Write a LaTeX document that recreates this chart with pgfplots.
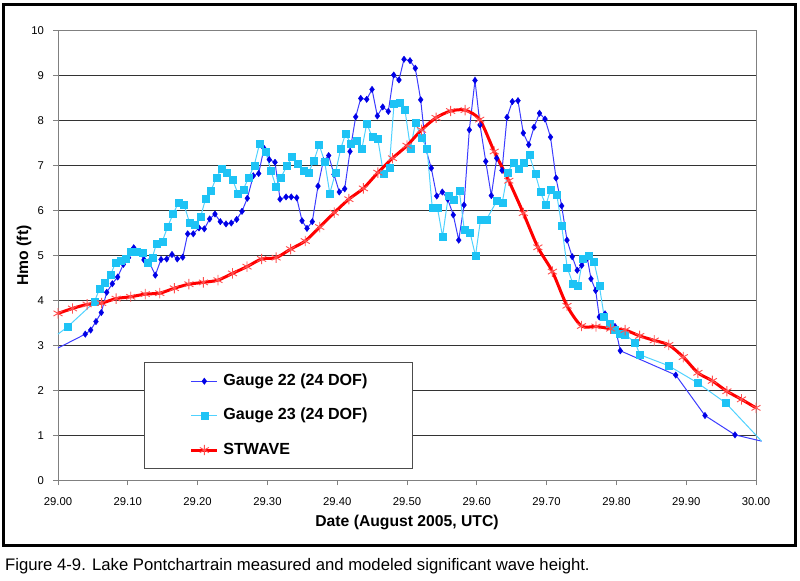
\documentclass[border=0pt]{standalone}
\usepackage{fontspec}
\setmainfont{Liberation Sans}
\usepackage{pgfplots}
\pgfplotsset{compat=1.18}
\definecolor{gAline}{RGB}{60,60,255}
\definecolor{gAmark}{RGB}{0,0,230}
\definecolor{gBline}{RGB}{80,210,255}
\definecolor{gBmark}{RGB}{30,195,245}
\definecolor{stmark}{RGB}{255,80,80}
\begin{document}
\begin{tikzpicture}
\useasboundingbox (0,0) rectangle (800bp,581bp);
\draw[line width=2.2bp] (3.5bp,35.5bp) rectangle (795.5bp,576.5bp);
\node[anchor=base west, font=\fontsize{16.7bp}{20bp}\selectfont, inner sep=0pt] at (5bp,10.3bp) {Figure 4-9. Lake Pontchartrain measured and modeled significant wave height.};
\begin{axis}[
  at={(58bp,100.7bp)}, anchor=south west,
  scale only axis, width=698bp, height=449.8bp,
  xmin=29, xmax=30, ymin=0, ymax=10,
  clip=false,
  xtick={29,29.1,29.2,29.3,29.4,29.5,29.6,29.7,29.8,29.9,30},
  ytick={0,1,2,3,4,5,6,7,8,9,10},
  scaled x ticks=false,
  xtick pos=left, ytick pos=left,
  tick align=outside, major tick length=5bp,
  tick style={gray, line width=0.7bp},
  axis line style={gray, line width=0.8bp},
  ymajorgrids, major grid style={black!80, line width=0.7bp},
  /pgf/number format/assume math mode=true,
  ticklabel style={font=\fontsize{11.3bp}{13bp}\selectfont},
  xticklabel style={yshift=-9.2bp, /pgf/number format/fixed, /pgf/number format/fixed zerofill, /pgf/number format/precision=2},
  yticklabel style={xshift=-5.5bp},
  xlabel={Date (August 2005, UTC)}, ylabel={Hmo (ft)},
  label style={font=\bfseries\fontsize{15.7bp}{18bp}\selectfont},
  x label style={at={(axis description cs:0.5,-0.0943)}, anchor=center},
  y label style={at={(axis description cs:-0.0487,0.5)}, anchor=center},
  legend style={at={(rel axis cs:0.1236,0.2623)}, anchor=north west,
    draw=black!70, line width=0.8bp, fill=white,
    font=\bfseries\fontsize{16.1bp}{19bp}\selectfont,
    inner xsep=45bp, inner ysep=10.5bp, row sep=18.4bp, column sep=4.4bp,
    nodes={inner sep=0pt, text height=12bp, text depth=4bp},
    cells={anchor=west}},
  legend image code/.code={\draw[mark repeat=2,mark phase=2,#1] plot coordinates {(0bp,0bp) (13.15bp,0bp) (26.3bp,0bp)};},
]
% edge segments (no markers)
\addplot[forget plot, color=gAline, line width=1bp] coordinates {(29,2.94) (29.0391,3.25)};
\addplot[forget plot, color=gAline, line width=1bp] coordinates {(29.9699,1.01) (30.008,0.87)};
\addplot[forget plot, color=gBline, line width=1bp] coordinates {(29,3.25) (29.0136,3.41)};
\addplot[forget plot, color=gBline, line width=1bp] coordinates {(29.9566,1.72) (30.008,0.87)};

\addplot[color=gAline, line width=1bp, mark=diamond*, mark size=3.2bp,
  mark options={fill=gAmark, draw=gAmark, line width=0.4bp}] coordinates {
(29.0391,3.25) (29.0468,3.34) (29.0544,3.53) (29.0620,3.73) (29.0698,4.18)
(29.0778,4.37) (29.0855,4.52) (29.0936,4.80) (29.1010,4.95) (29.1085,5.17)
(29.1161,5.08) (29.1232,4.90) (29.1304,4.86) (29.1394,4.56) (29.1476,4.91)
(29.1557,4.92) (29.1633,5.02) (29.1709,4.92) (29.1787,4.96) (29.1858,5.48)
(29.1938,5.48) (29.2020,5.61) (29.2096,5.59) (29.2173,5.81) (29.2249,5.92)
(29.2325,5.75) (29.2407,5.70) (29.2483,5.72) (29.2560,5.80) (29.2636,5.98)
(29.2712,6.27) (29.2798,6.77) (29.2875,6.82) (29.2951,7.38) (29.3027,7.13)
(29.3109,7.07) (29.3181,6.25) (29.3267,6.30) (29.3342,6.30) (29.3420,6.28)
(29.3496,5.77) (29.3567,5.60) (29.3643,5.75) (29.3725,6.54) (29.3801,7.10)
(29.3878,7.22) (29.3954,6.80) (29.4030,6.41) (29.4107,6.48) (29.4183,7.31)
(29.4265,8.08) (29.4337,8.49) (29.4423,8.47) (29.4499,8.69) (29.4575,8.10)
(29.4652,8.30) (29.4732,8.20) (29.4810,9.01) (29.4885,8.90) (29.4957,9.36)
(29.5043,9.33) (29.5119,9.16) (29.5196,8.46) (29.5272,7.35) (29.5348,6.94)
(29.5426,6.32) (29.5506,6.41) (29.5583,6.25) (29.5663,5.90) (29.5741,5.34)
(29.5817,6.12) (29.5893,7.79) (29.5974,8.89) (29.6046,7.90) (29.6128,7.09)
(29.6208,6.33) (29.6285,7.16) (29.6361,6.89) (29.6433,8.07) (29.6509,8.42)
(29.6590,8.44) (29.6666,7.72) (29.6744,7.46) (29.6820,7.85) (29.6898,8.16)
(29.6977,8.03) (29.7056,7.63) (29.7135,6.72) (29.7216,6.10) (29.7292,5.34)
(29.7367,4.97) (29.7438,4.67) (29.7503,4.78) (29.7583,4.94) (29.7636,4.48)
(29.7703,4.22) (29.7755,3.63) (29.7837,3.70) (29.7908,3.44) (29.7980,3.42)
(29.8056,2.88) (29.8850,2.34) (29.9269,1.44) (29.9699,1.01)
};
\addlegendentry{Gauge 22 (24 DOF)}

\addplot[color=gBline, line width=1bp, mark=square*, mark size=3.5bp,
  mark options={fill=gBmark, draw=gBmark, line width=0.4bp}] coordinates {
(29.0136,3.41) (29.0520,3.96) (29.0592,4.25) (29.0676,4.39) (29.0752,4.56)
(29.0824,4.84) (29.0895,4.88) (29.0967,4.92) (29.1042,5.09) (29.1122,5.08)
(29.1208,5.06) (29.1285,4.84) (29.1351,4.95) (29.1411,5.26) (29.1494,5.31)
(29.1572,5.64) (29.1648,5.92) (29.1729,6.18) (29.1805,6.13) (29.1884,5.73)
(29.1963,5.69) (29.2042,5.85) (29.2116,6.27) (29.2192,6.44) (29.2268,6.73)
(29.2342,6.92) (29.2421,6.83) (29.2500,6.69) (29.2576,6.38) (29.2655,6.47)
(29.2732,6.73) (29.2811,7.00) (29.2887,7.48) (29.2973,7.31) (29.3049,6.89)
(29.3123,6.53) (29.3195,6.73) (29.3277,6.99) (29.3355,7.19) (29.3434,7.04)
(29.3513,6.89) (29.3586,6.83) (29.3665,7.10) (29.3742,7.46) (29.3821,7.08)
(29.3894,6.38) (29.3976,6.84) (29.4050,7.37) (29.4119,7.70) (29.4198,7.48)
(29.4274,7.55) (29.4355,7.38) (29.4423,7.93) (29.4503,7.63) (29.4580,7.60)
(29.4663,6.82) (29.4746,6.96) (29.4814,8.37) (29.4895,8.39) (29.4971,8.23)
(29.5050,7.38) (29.5122,7.95) (29.5208,7.61) (29.5287,7.38) (29.5362,6.05)
(29.5437,6.05) (29.5509,5.42) (29.5592,6.32) (29.5671,6.23) (29.5749,6.44)
(29.5821,5.57) (29.5903,5.51) (29.5981,4.99) (29.6053,5.79) (29.6139,5.80)
(29.6287,6.21) (29.6365,6.18) (29.6443,6.84) (29.6523,7.06) (29.6602,6.93)
(29.6679,7.06) (29.6751,7.24) (29.6837,6.82) (29.6911,6.41) (29.6989,6.12)
(29.7060,6.47) (29.7145,6.36) (29.7216,5.66) (29.7295,4.73) (29.7374,4.38)
(29.7450,4.32) (29.7517,4.92) (29.7597,5.00) (29.7679,4.86) (29.7755,4.33)
(29.7825,3.64) (29.7908,3.48) (29.7980,3.34) (29.8052,3.27) (29.8123,3.24)
(29.8266,3.07) (29.8338,2.79) (29.8744,2.55) (29.9159,2.17) (29.9566,1.72)
};
\addlegendentry{Gauge 23 (24 DOF)}

\addplot[color=red, line width=3bp, smooth, tension=0.45, mark=asterisk, mark size=5.2bp,
  mark options={draw=stmark, line width=0.9bp}] coordinates {
(29.0000,3.71) (29.0208,3.82) (29.0417,3.91) (29.0625,3.94) (29.0833,4.04)
(29.1042,4.08) (29.1250,4.14) (29.1458,4.16) (29.1667,4.27) (29.1875,4.36)
(29.2083,4.40) (29.2292,4.45) (29.2500,4.60) (29.2708,4.75) (29.2917,4.92)
(29.3125,4.95) (29.3333,5.14) (29.3542,5.32) (29.3750,5.63) (29.3958,5.95)
(29.4167,6.25) (29.4375,6.49) (29.4583,6.84) (29.4792,7.16) (29.5000,7.44)
(29.5208,7.79) (29.5417,8.06) (29.5625,8.21) (29.5833,8.23) (29.6042,8.02)
(29.6250,7.31) (29.6458,6.66) (29.6667,5.94) (29.6875,5.18) (29.7083,4.64)
(29.7292,3.88) (29.7500,3.43) (29.7708,3.42) (29.7917,3.37) (29.8125,3.34)
(29.8333,3.21) (29.8542,3.11) (29.8750,3.01) (29.8958,2.74) (29.9167,2.39)
(29.9375,2.21) (29.9583,1.98) (29.9792,1.80) (30.0000,1.61)
};
\addlegendentry{STWAVE}
\end{axis}
\end{tikzpicture}
\end{document}
